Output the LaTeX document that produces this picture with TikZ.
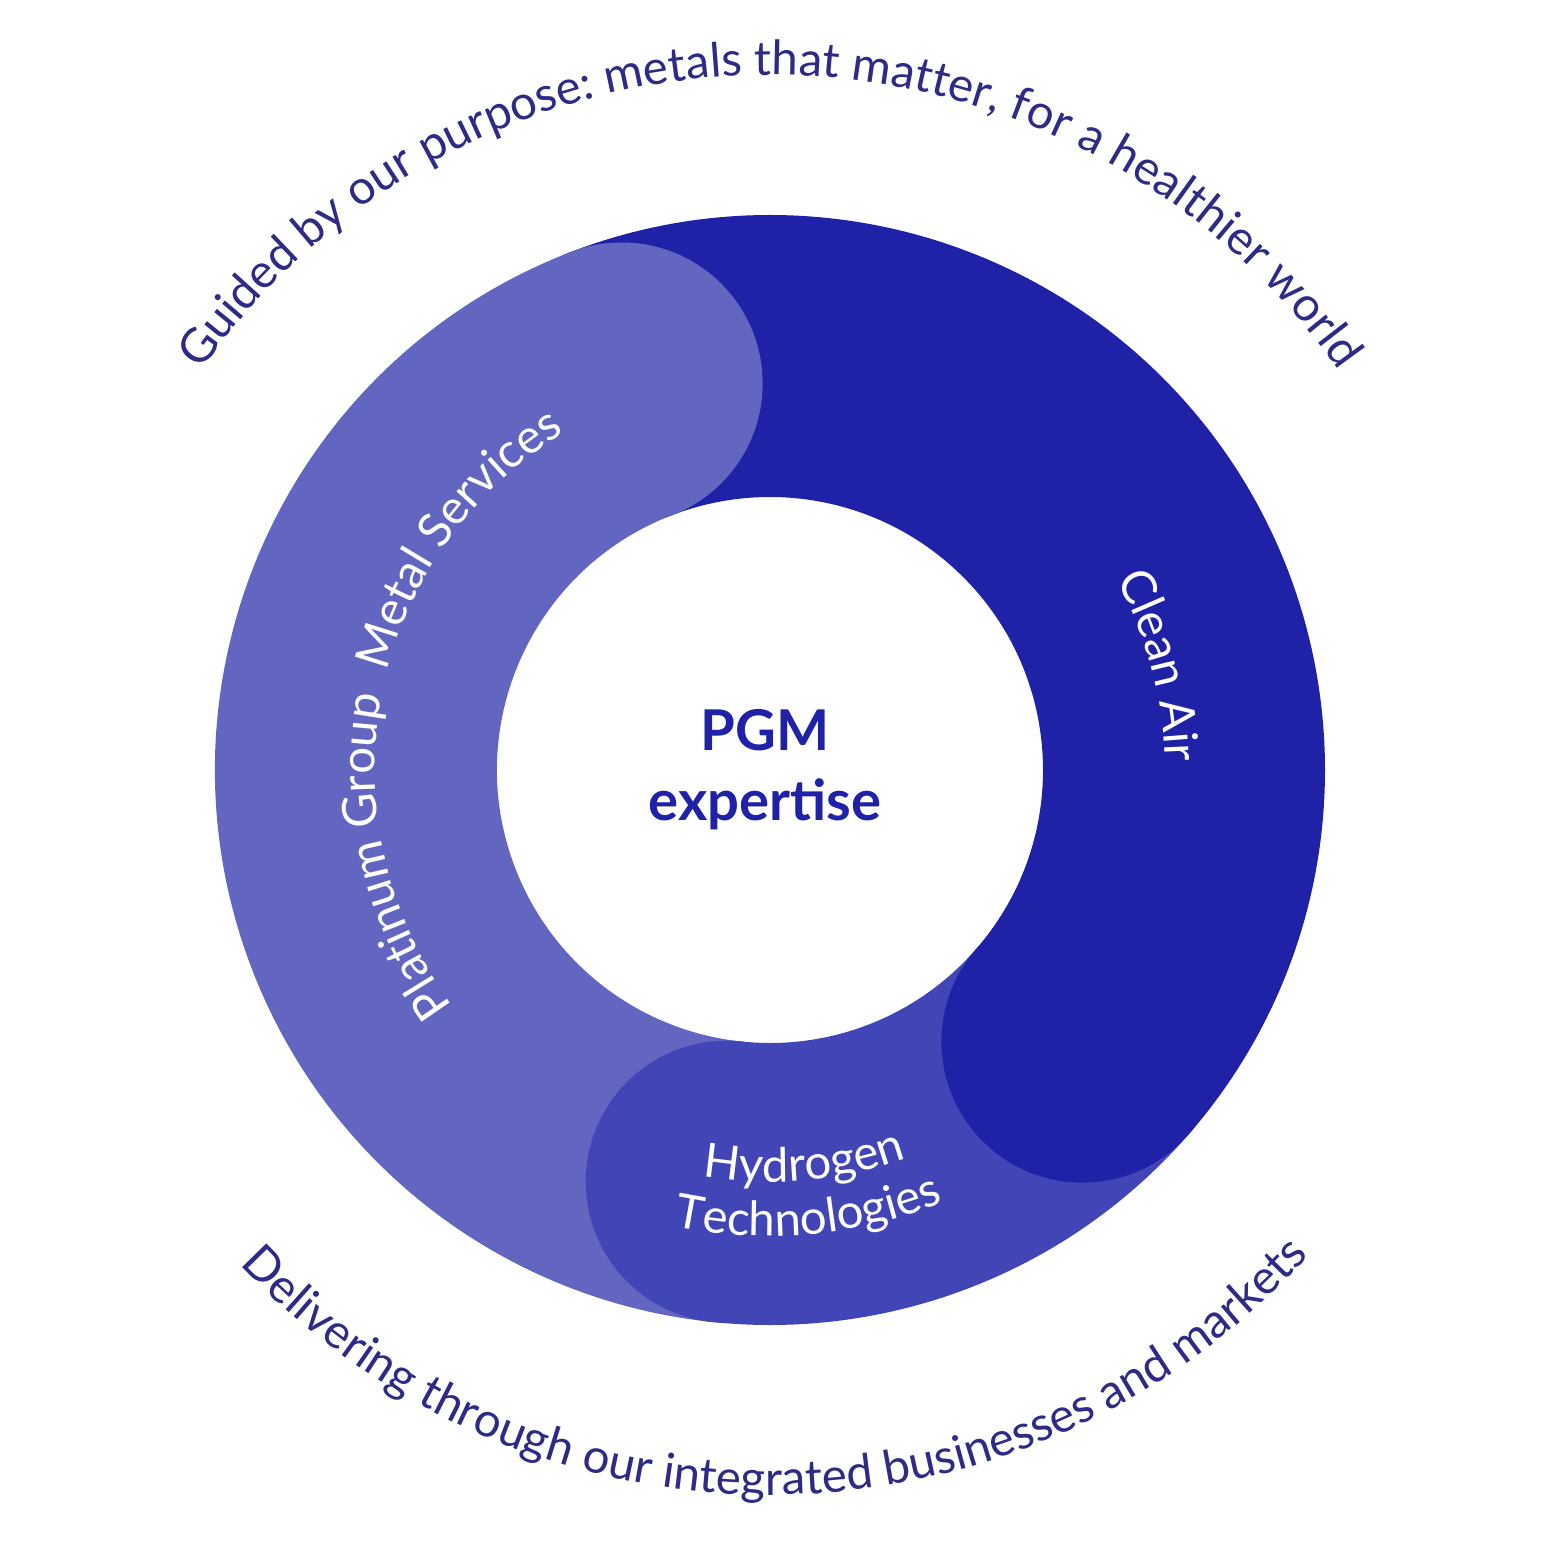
\documentclass[tikz,border=0pt]{standalone}
\usepackage{fontspec}
\setmainfont{Lato}
\usetikzlibrary{decorations.text}
\definecolor{dark}{HTML}{1F22A6}
\definecolor{light}{HTML}{6366C0}
\definecolor{hyd}{HTML}{4145B5}
\definecolor{txt}{HTML}{2E2A85}
\begin{document}
\begin{tikzpicture}[
  seg/.style={line width=2.82cm, line cap=round},
  curv/.style={decorate, decoration={text along path, text align=center, text color=#1}},
]
\useasboundingbox (-7.70,-7.71) rectangle (7.71,7.70);
% segments
\draw[seg, hyd] (264:4.14) arc[start angle=264, end angle=319, radius=4.14];
\draw[seg, dark] (-41:4.14) arc[start angle=-41, end angle=111, radius=4.14];
\draw[line width=2.82cm, light] (111:4.14) arc[start angle=111, end angle=264, radius=4.14];
\fill[light] (111:4.14) circle (1.41);
\fill[hyd] (264:4.14) circle (1.41);
% center
\node[font=\fontsize{16}{20}\selectfont\bfseries, text=dark, align=center] (pgm) at (-0.05,0.0) {PGM\\expertise};
% outer texts
\path[curv=txt, decoration={text={|\fontsize{13.5}{16}\selectfont|Guided by our purpose: metals that matter, for a healthier world}}] (146:6.95) arc[start angle=146, end angle=34, radius=6.95];
\path[curv=txt, decoration={text={|\fontsize{13.5}{16}\selectfont|Delivering through our integrated businesses and markets}}] (219:7.25) arc[start angle=219, end angle=322, radius=7.25];
% inner texts
\path[curv=white, decoration={text={|\fontsize{13.5}{16}\selectfont|Platinum Group\ \ Metal Services}}] (224:3.95) arc[start angle=224, end angle=114, radius=3.95];
\path[curv=white, decoration={text={|\fontsize{13.5}{16}\selectfont|Clean Air}}] (33:3.95) arc[start angle=33, end angle=-3, radius=3.95];
\path[curv=white, decoration={text={|\fontsize{13.5}{16}\selectfont|Hydrogen}}] (-102:4.12) arc[start angle=-102, end angle=-68, radius=4.12];
\path[curv=white, decoration={text={|\fontsize{13.5}{16}\selectfont|Technologies}}] (-106:4.66) arc[start angle=-106, end angle=-64, radius=4.66];
\end{tikzpicture}
\end{document}
